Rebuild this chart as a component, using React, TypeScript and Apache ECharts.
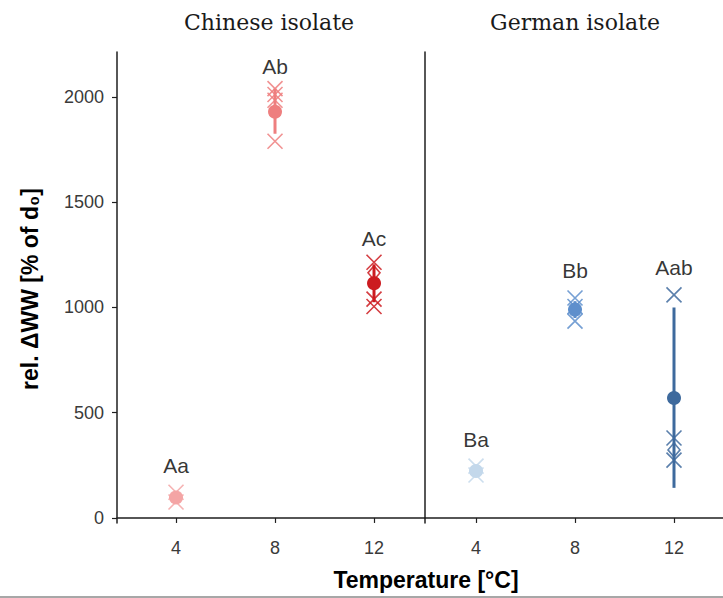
import React, { useEffect, useRef } from "react";
import * as echarts from "echarts";

// ---- data ----
const temps = [4, 8, 12];
const xTicks = [4, 8, 12];
const yTicks = [0, 500, 1000, 1500, 2000];
const panelTitles = ["Chinese isolate", "German isolate"];
const groupLetters = [["Aa", "Ab", "Ac"], ["Ba", "Bb", "Aab"]];
const letterY = [[247, 2147, 1330], [375, 1178, 1192]];
const meanValues = [[97, 1930, 1115], [223, 990, 570]];
const errLow = [[80, 1825, 1025], [205, 950, 143]];
const errHigh = [[115, 2040, 1205], [240, 1030, 1000]];
const crossReps = [
  [[122, 76], [2040, 2012, 1985, 1790], [1215, 1040, 1005]],
  [[246, 204], [1045, 1005, 935], [1060, 380, 275]],
];
const diamondReps = [
  [[], [], [1165]],
  [[], [990], [323]],
];

const palette = [
  ["#F4A5A5", "#EE7F7F", "#CC1B20"],
  ["#C3D8EB", "#5E8FCC", "#3E6A9D"],
];

const CROSS = "path://M0,0L10,10M10,0L0,10";
const AX = "#1f1f1f";
const TICK_TXT = "#3a3a3a";
const SANS = "Liberation Sans, Arial, Helvetica, sans-serif";

export default function App() {
  const ref = useRef<HTMLDivElement>(null);
  useEffect(() => {
    if (!ref.current) return;
    const chart = echarts.init(ref.current, undefined, { renderer: "svg" });

    const xRanges = [
      { min: 1.616, max: 14.06 },
      { min: 1.939, max: 13.98 },
    ];

    const xAxis = [0, 1].map((p) => ({
      type: "value",
      gridIndex: p,
      min: xRanges[p].min,
      max: xRanges[p].max,
      axisLine: { show: true, lineStyle: { color: AX, width: 1.5 } },
      axisTick: { show: true, customValues: xTicks, length: 5, lineStyle: { color: AX, width: 1.2 } },
      axisLabel: {
        show: true,
        customValues: xTicks,
        margin: 16,
        fontSize: 18,
        color: TICK_TXT,
        fontFamily: SANS,
        formatter: (v: number) => String(v),
      },
      splitLine: { show: false },
    }));

    const yAxis = [0, 1].map((p) => ({
      type: "value",
      gridIndex: p,
      min: -24,
      max: 2214,
      axisLine: { show: true, onZero: false, lineStyle: { color: AX, width: 1.5 } },
      axisTick: { show: p === 0, customValues: yTicks, length: 5, lineStyle: { color: AX, width: 1.2 } },
      axisLabel: {
        show: p === 0,
        customValues: yTicks,
        margin: 13,
        fontSize: 18,
        color: TICK_TXT,
        fontFamily: SANS,
        formatter: (v: number) => String(v),
      },
      splitLine: { show: false },
    }));

    const series: any[] = [];
    for (let p = 0; p < 2; p++) {
      for (let g = 0; g < 3; g++) {
        const col = palette[p][g];
        const x = temps[g];
        series.push({
          type: "line",
          xAxisIndex: p,
          yAxisIndex: p,
          data: [
            [x, errLow[p][g]],
            [x, errHigh[p][g]],
          ],
          symbol: "none",
          lineStyle: { color: col, width: 3 },
          silent: true,
          z: 2,
        });
        series.push({
          type: "scatter",
          xAxisIndex: p,
          yAxisIndex: p,
          data: crossReps[p][g].map((v) => [x, v]),
          symbol: CROSS,
          symbolSize: 15,
          itemStyle: { color: "transparent", borderColor: col, borderWidth: 1.6, opacity: 0.85 },
          z: 3,
        });
        series.push({
          type: "scatter",
          xAxisIndex: p,
          yAxisIndex: p,
          data: diamondReps[p][g].map((v) => [x, v]),
          symbol: "diamond",
          symbolSize: [12, 14],
          itemStyle: { color: "transparent", borderColor: col, borderWidth: 1.6, opacity: 0.85 },
          z: 3,
        });
        series.push({
          type: "scatter",
          xAxisIndex: p,
          yAxisIndex: p,
          data: [[x, meanValues[p][g]]],
          symbol: "circle",
          symbolSize: 14,
          itemStyle: { color: col, opacity: 1 },
          z: 4,
        });
        series.push({
          type: "scatter",
          xAxisIndex: p,
          yAxisIndex: p,
          data: [[x, letterY[p][g]]],
          symbol: "circle",
          symbolSize: 1,
          itemStyle: { color: "transparent" },
          label: {
            show: true,
            position: "inside",
            formatter: groupLetters[p][g],
            fontSize: 21,
            color: "#000",
            fontFamily: SANS,
          },
          z: 5,
        });
      }
    }

    chart.setOption({
      animation: false,
      backgroundColor: "#ffffff",
      grid: [
        { left: 117, top: 52, width: 308, height: 471, containLabel: false },
        { left: 425, top: 52, width: 298, height: 471, containLabel: false },
      ],
      xAxis,
      yAxis,
      series,
      graphic: [
        {
          type: "text",
          x: 269,
          y: 22,
          style: {
            text: panelTitles[0],
            font: "22px 'DejaVu Serif', serif",
            fill: "#1a1a1a",
            textAlign: "center",
            textVerticalAlign: "middle",
          },
        },
        {
          type: "text",
          x: 575,
          y: 22,
          style: {
            text: panelTitles[1],
            font: "22px 'DejaVu Serif', serif",
            fill: "#1a1a1a",
            textAlign: "center",
            textVerticalAlign: "middle",
          },
        },
        {
          type: "text",
          x: 30,
          y: 289,
          rotation: Math.PI / 2,
          style: {
            text: "rel. ΔWW [% of d₀]",
            font: "bold 23px 'Liberation Sans', Arial, sans-serif",
            fill: "#000",
            textAlign: "center",
            textVerticalAlign: "middle",
          },
        },
        {
          type: "text",
          x: 426,
          y: 580,
          style: {
            text: "Temperature [°C]",
            font: "bold 23px 'Liberation Sans', Arial, sans-serif",
            fill: "#000",
            textAlign: "center",
            textVerticalAlign: "middle",
          },
        },
        {
          type: "line",
          shape: { x1: 0, y1: 597, x2: 723, y2: 597 },
          style: { stroke: "#8a8a8a", lineWidth: 1.5 },
        },
      ],
    });

    return () => chart.dispose();
  }, []);

  return (
    <div
      ref={ref}
      style={{ position: "fixed", left: 0, top: 0, width: 723, height: 598, background: "#fff" }}
    />
  );
}
